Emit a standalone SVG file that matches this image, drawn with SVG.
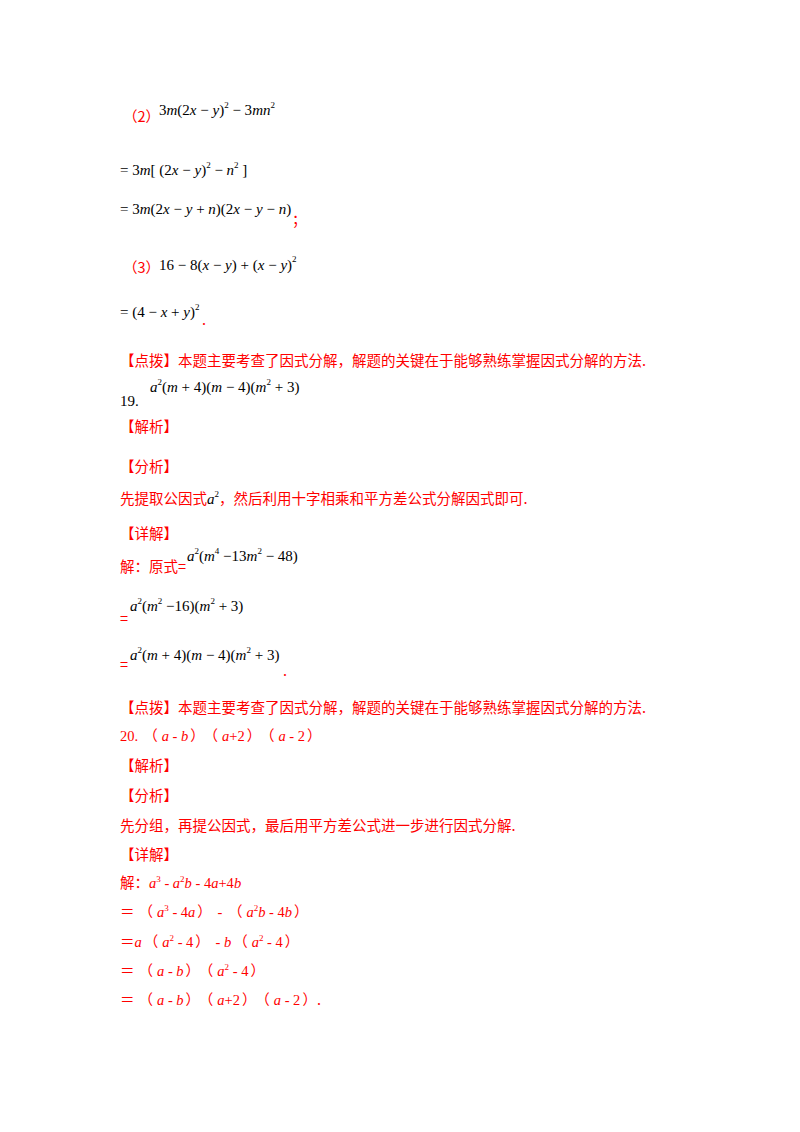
<svg xmlns="http://www.w3.org/2000/svg" width="800" height="1132" viewBox="0 0 800 1132">
<style>
.r{fill:#ff0000;font-family:"Noto Sans CJK SC",sans-serif;font-size:14.5px}
.c{fill:#ff0000;font-family:"Noto Sans CJK SC",sans-serif;font-size:14.5px}
.m{fill:#000;font-family:"Liberation Serif",serif;font-size:15px}
.i{font-style:italic;font-family:"Liberation Serif",serif}
.n{font-family:"Liberation Serif",serif}
.s{font-size:9px;font-family:"Liberation Serif",serif}
</style>
<rect width="800" height="1132" fill="#fff"/>
<text class="c" x="123" y="122" font-size="11">（2）</text>
<text class="m" x="159" y="115"><tspan>3</tspan><tspan class="i">m</tspan>(2<tspan class="i">x</tspan> − <tspan class="i">y</tspan>)<tspan class="s" dy="-7">2</tspan><tspan dy="7"> − 3</tspan><tspan class="i">mn</tspan><tspan class="s" dy="-7">2</tspan></text>
<text class="m" x="120" y="175">= 3<tspan class="i">m</tspan>[ (2<tspan class="i">x</tspan> − <tspan class="i">y</tspan>)<tspan class="s" dy="-7">2</tspan><tspan dy="7"> − </tspan><tspan class="i">n</tspan><tspan class="s" dy="-7">2</tspan><tspan dy="7"> ]</tspan></text>
<text class="m" x="120" y="214">= 3<tspan class="i">m</tspan>(2<tspan class="i">x</tspan> − <tspan class="i">y</tspan> + <tspan class="i">n</tspan>)(2<tspan class="i">x</tspan> − <tspan class="i">y</tspan> − <tspan class="i">n</tspan>)</text>
<text class="c" x="292" y="225" font-size="10">；</text>
<text class="c" x="123" y="273" font-size="11">（3）</text>
<text class="m" x="159" y="270" font-size="18">16 − 8(<tspan class="i">x</tspan> − <tspan class="i">y</tspan>) + (<tspan class="i">x</tspan> − <tspan class="i">y</tspan>)<tspan class="s" dy="-8" font-size="10">2</tspan></text>
<text class="m" x="120" y="317">= (4 − <tspan class="i">x</tspan> + <tspan class="i">y</tspan>)<tspan class="s" dy="-7">2</tspan></text>
<text class="c" x="202" y="325" font-size="10">.</text>
<text class="c" x="120" y="366">【点拨】本题主要考查了因式分解，解题的关键在于能够熟练掌握因式分解的方法.</text>
<text class="m" x="120" y="406">19.</text>
<text class="m" x="150" y="392"><tspan class="i">a</tspan><tspan class="s" dy="-7">2</tspan><tspan dy="7">(</tspan><tspan class="i">m</tspan> + 4)(<tspan class="i">m</tspan> − 4)(<tspan class="i">m</tspan><tspan class="s" dy="-7">2</tspan><tspan dy="7"> + 3)</tspan></text>
<text class="c" x="120" y="432">【解析】</text>
<text class="c" x="120" y="472">【分析】</text>
<text class="c" x="120" y="504">先提取公因式<tspan class="i" font-size="15" fill="#000">a</tspan><tspan class="s" fill="#000" dy="-7">2</tspan><tspan dy="7">，然后利用十字相乘和平方差公式分解因式即可.</tspan></text>
<text class="c" x="120" y="539">【详解】</text>
<text class="c" x="120" y="572">解：原式=</text>
<text class="m" x="187" y="561"><tspan class="i">a</tspan><tspan class="s" dy="-7">2</tspan><tspan dy="7">(</tspan><tspan class="i">m</tspan><tspan class="s" dy="-7">4</tspan><tspan dy="7"> −13</tspan><tspan class="i">m</tspan><tspan class="s" dy="-7">2</tspan><tspan dy="7"> − 48)</tspan></text>
<text class="c" x="120" y="624">=</text>
<text class="m" x="130" y="611"><tspan class="i">a</tspan><tspan class="s" dy="-7">2</tspan><tspan dy="7">(</tspan><tspan class="i">m</tspan><tspan class="s" dy="-7">2</tspan><tspan dy="7"> −16)(</tspan><tspan class="i">m</tspan><tspan class="s" dy="-7">2</tspan><tspan dy="7"> + 3)</tspan></text>
<text class="c" x="120" y="670">=</text>
<text class="m" x="130" y="660"><tspan class="i">a</tspan><tspan class="s" dy="-7">2</tspan><tspan dy="7">(</tspan><tspan class="i">m</tspan> + 4)(<tspan class="i">m</tspan> − 4)(<tspan class="i">m</tspan><tspan class="s" dy="-7">2</tspan><tspan dy="7"> + 3)</tspan></text>
<text class="c" x="283" y="676" font-size="10">.</text>
<text class="r" x="120" y="741"><tspan class="n">20.</tspan><tspan dx="5">（</tspan><tspan class="i" dx="4">a</tspan><tspan class="n"> - </tspan><tspan class="i">b</tspan><tspan dx="2">）</tspan><tspan dx="6">（</tspan><tspan class="i" dx="4">a</tspan><tspan class="n">+2</tspan><tspan dx="2">）</tspan><tspan dx="6">（</tspan><tspan class="i" dx="4">a</tspan><tspan class="n"> - 2</tspan><tspan dx="2">）</tspan></text>
<text class="c" x="120" y="713">【点拨】本题主要考查了因式分解，解题的关键在于能够熟练掌握因式分解的方法.</text>
<text class="c" x="120" y="771">【解析】</text>
<text class="c" x="120" y="801">【分析】</text>
<text class="c" x="120" y="831">先分组，再提公因式，最后用平方差公式进一步进行因式分解.</text>
<text class="c" x="120" y="860">【详解】</text>
<text class="r" x="120" y="888">解：<tspan class="i">a</tspan><tspan class="s" dy="-6">3</tspan><tspan class="n" dy="6"> - </tspan><tspan class="i">a</tspan><tspan class="s" dy="-6">2</tspan><tspan class="i" dy="6">b</tspan><tspan class="n"> - 4</tspan><tspan class="i">a</tspan><tspan class="n">+4</tspan><tspan class="i">b</tspan></text>
<text class="r" x="120" y="917">＝<tspan dx="4">（</tspan><tspan class="i" dx="4">a</tspan><tspan class="s" dy="-6">3</tspan><tspan class="n" dy="6"> - 4</tspan><tspan class="i">a</tspan><tspan dx="2">）</tspan><tspan class="n" dx="2"> - </tspan><tspan dx="2">（</tspan><tspan class="i" dx="4">a</tspan><tspan class="s" dy="-6">2</tspan><tspan class="i" dy="6">b</tspan><tspan class="n"> - 4</tspan><tspan class="i">b</tspan><tspan dx="2">）</tspan></text>
<text class="r" x="120" y="947">＝<tspan class="i">a</tspan><tspan dx="2">（</tspan><tspan class="i" dx="4">a</tspan><tspan class="s" dy="-6">2</tspan><tspan class="n" dy="6"> - 4</tspan><tspan dx="2">）</tspan><tspan class="n" dx="2"> - </tspan><tspan class="i">b</tspan><tspan dx="2">（</tspan><tspan class="i" dx="4">a</tspan><tspan class="s" dy="-6">2</tspan><tspan class="n" dy="6"> - 4</tspan><tspan dx="2">）</tspan></text>
<text class="r" x="120" y="976">＝<tspan dx="4">（</tspan><tspan class="i" dx="4">a</tspan><tspan class="n"> - </tspan><tspan class="i">b</tspan><tspan dx="2">）</tspan><tspan dx="6">（</tspan><tspan class="i" dx="4">a</tspan><tspan class="s" dy="-6">2</tspan><tspan class="n" dy="6"> - 4</tspan><tspan dx="2">）</tspan></text>
<text class="r" x="120" y="1005">＝<tspan dx="4">（</tspan><tspan class="i" dx="4">a</tspan><tspan class="n"> - </tspan><tspan class="i">b</tspan><tspan dx="2">）</tspan><tspan dx="6">（</tspan><tspan class="i" dx="4">a</tspan><tspan class="n">+2</tspan><tspan dx="2">）</tspan><tspan dx="6">（</tspan><tspan class="i" dx="4">a</tspan><tspan class="n"> - 2</tspan><tspan dx="2">）</tspan>.</text>
</svg>
